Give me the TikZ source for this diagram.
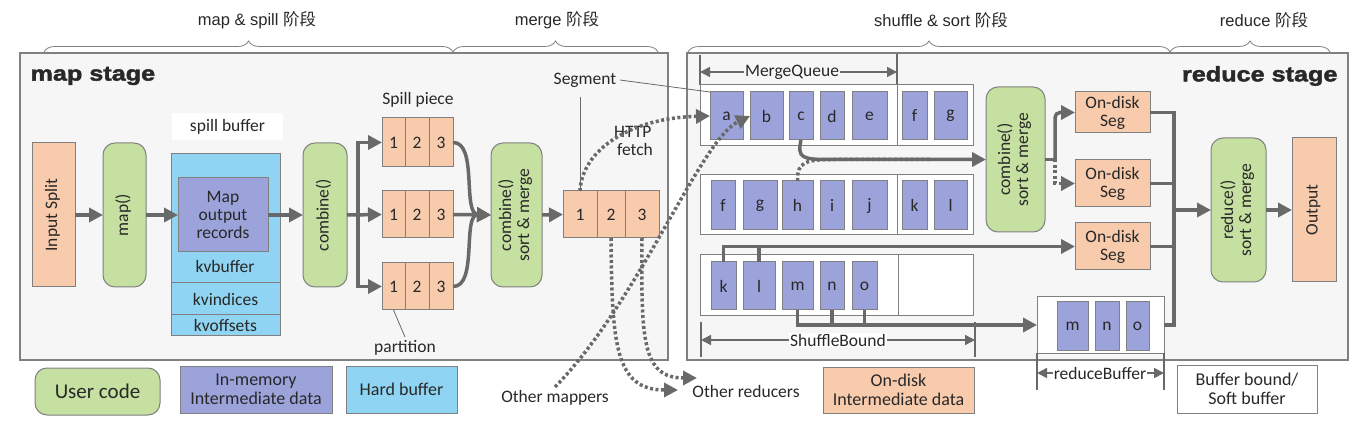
\documentclass[tikz,border=0pt]{standalone}
\usepackage{fontspec}
\usepackage{graphicx}
\setmainfont{Carlito}
\newfontfamily\arial{Liberation Sans}
\newfontfamily\heavy{Liberation Sans}[UprightFont={* Bold},FakeBold=2,FakeStretch=1.2]
\newfontfamily\cjk{Noto Sans CJK SC}
\usetikzlibrary{arrows.meta,decorations.pathreplacing,calc}
\definecolor{ora}{RGB}{248,203,173}
\definecolor{grn}{RGB}{197,224,160}
\definecolor{pur}{RGB}{155,163,218}
\definecolor{blu}{RGB}{143,212,242}
\definecolor{bord}{RGB}{128,128,128}
\definecolor{arrc}{RGB}{105,105,105}
\definecolor{stg}{RGB}{246,246,246}
\definecolor{txt}{RGB}{40,40,40}
\newcommand\mybx[7]{\node[#2,minimum width={#5pt-#3pt},minimum height={#6pt-#4pt}] (#1) at ({(#3+#5)/2},{(#4+#6)/2}) {#7};}
\newcommand\myrot[1]{\rotatebox{90}{\begin{tabular}{@{}c@{}}#1\end{tabular}}}
\begin{document}
\begin{tikzpicture}[x=1pt,y=-1pt,font=\fontsize{17.5}{18}\selectfont,text=txt,
 box/.style={draw=bord,line width=1pt,inner sep=0pt,outer sep=0pt,align=center},
 orab/.style={box,fill=ora},
 grnb/.style={box,fill=grn,rounded corners=12pt},
 purb/.style={box,fill=pur},
 blub/.style={box,fill=blu},
 whtb/.style={box,fill=white},
 stagebox/.style={box,fill=stg,line width=1.2pt},
 arr/.style={draw=arrc,line width=3.5pt,-{Triangle[length=14pt,width=14pt]}},
 plain/.style={draw=arrc,line width=3.5pt},
 dotarr/.style={arr,dash pattern=on 3pt off 2.5pt},
 dotl/.style={plain,dash pattern=on 3pt off 2.5pt},
 thinl/.style={draw=arrc,line width=0.8pt},
 dimarr/.style={draw=arrc,line width=1.5pt,{Triangle[length=10pt,width=10pt]}-{Triangle[length=10pt,width=10pt]}},
 tickl/.style={draw=arrc,line width=1.5pt},
 brc/.style={draw=bord,line width=0.8pt,decorate,decoration={brace,amplitude=11pt}},
 lbl/.style={inner sep=1pt}]
\useasboundingbox (0,0) rectangle (1368,438);
\fill[white] (0,0) rectangle (1368,438);
% headings
\node[font=\arial\fontsize{16.5}{18}\selectfont] (h1) at (257,20) {map \& spill {\cjk 阶段}};
\node[font=\arial\fontsize{16.5}{18}\selectfont] (h2) at (557,20) {merge {\cjk 阶段}};
\node[font=\arial\fontsize{16.5}{18}\selectfont] (h3) at (941,20) {shuffle \& sort {\cjk 阶段}};
\node[font=\arial\fontsize{16.5}{18}\selectfont] (h4) at (1264,20) {reduce {\cjk 阶段}};
% stage boxes
\mybx{ms}{stagebox}{20}{53}{668}{360}{}
\mybx{rs}{stagebox}{687}{53}{1348}{360}{}
\draw[brc] (44,52) -- (453,52);
\draw[brc] (453,52) -- (658,52);
\draw[brc] (688,52) -- (1170,52);
\draw[brc] (1170,52) -- (1330,52);
\node[anchor=west,font=\heavy\fontsize{21}{22}\selectfont] (mst) at (27,76) {map stage};
\node[anchor=east,font=\heavy\fontsize{21}{22}\selectfont] (rst) at (1341,76) {reduce stage};
% map stage
\mybx{split}{orab}{32}{143}{75}{287}{\myrot{Input Split}}
\mybx{map}{grnb}{103}{143}{146}{287}{\myrot{map()}}
\mybx{sbl}{box,draw=none,fill=white}{172}{113}{283}{140}{spill buffer}
\mybx{kvb}{blub}{171}{154}{280}{283}{}
\mybx{kvi}{blub}{171}{283}{280}{315}{kvindices}
\mybx{kvo}{blub}{171}{315}{280}{335}{kvoffsets}
\mybx{mor}{purb}{178}{178}{268}{252}{Map\\output\\records}
\node (kvbt) at (225,266) {kvbuffer};
\mybx{comb}{grnb}{303}{143}{347}{287}{\myrot{combine()}}
\draw[arr] (split.east) -- (map.west);
\draw[arr] (map.east) -- (mor.west);
\draw[arr] (mor.east) -- (comb.west);
% spill pieces
\mybx{sp1a}{orab}{382}{118}{405}{167}{1}
\mybx{sp1b}{orab}{405}{118}{429}{167}{2}
\mybx{sp1c}{orab}{429}{118}{453}{167}{3}
\mybx{sp2a}{orab}{382}{191}{405}{238}{1}
\mybx{sp2b}{orab}{405}{191}{429}{238}{2}
\mybx{sp2c}{orab}{429}{191}{453}{238}{3}
\mybx{sp3a}{orab}{382}{263}{405}{310}{1}
\mybx{sp3b}{orab}{405}{263}{429}{310}{2}
\mybx{sp3c}{orab}{429}{263}{453}{310}{3}
\node (spl) at (418,100) {Spill piece};
\node (part) at (405,348) {partition};
\draw[thinl] (sp3a.south) -- (part.north);
\coordinate (br) at (358,213);
\draw[arr] (comb.east) -- (sp2a.west);
\draw[arr] (br) |- (sp1a.west);
\draw[arr] (br) |- (sp3a.west);
% merge
\mybx{csm}{grnb}{491}{143}{542}{287}{\myrot{combine()\\sort \& merge}}
\draw[arr] (sp1c.east) .. controls (478,142) and (462,214) .. (csm.west);
\draw[arr] (sp2c.east) -- (csm.west);
\draw[arr] (sp3c.east) .. controls (478,287) and (462,214) .. (csm.west);
\mybx{seg1}{orab}{563}{191}{597}{238}{1}
\mybx{seg2}{orab}{597}{191}{625}{238}{2}
\mybx{seg3}{orab}{625}{191}{659}{238}{3}
\draw[arr] (csm.east) -- (seg1.west);
\node (segl) at (585,80) {Segment};
\coordinate (segtop) at (580,97);
\draw[thinl] (segtop) -- (seg1.north);
\node[anchor=west,align=left,lbl] (http) at (613,141) {HTTP\\\,fetch};
\node (omap) at (555,398) {Other mappers};
\node (ored) at (746,391) {Other reducers};
% shuffle area
\draw[tickl] (700,55) -- (700,85);
\draw[tickl] (897,54) -- (897,85);
\draw[dimarr] (700,72) -- (897,72);
\node[fill=stg,lbl] (mq) at (792,72) {MergeQueue};
\mybx{r1}{whtb}{700}{85}{973}{146}{}
\mybx{r2}{whtb}{700}{175}{973}{235}{}
\mybx{r3}{whtb}{700}{255}{973}{316}{}
\draw[bord,line width=1pt] (r1.north -| 897,0) -- (r1.south -| 897,0);
\draw[bord,line width=1pt] (r2.north -| 897,0) -- (r2.south -| 897,0);
\draw[bord,line width=1pt] (r3.north -| 898,0) -- (r3.south -| 898,0);
\mybx{a1}{purb}{710}{92}{743}{140}{a}
\mybx{b1}{purb}{750}{92}{783}{140}{b}
\mybx{c1}{purb}{789}{92}{813}{140}{c}
\mybx{d1}{purb}{820}{92}{844}{140}{d}
\mybx{e1}{purb}{852}{92}{887}{140}{e}
\mybx{f1}{purb}{902}{92}{927}{140}{f}
\mybx{g1}{purb}{934}{92}{967}{140}{g}
\mybx{f2}{purb}{711}{181}{735}{230}{f}
\mybx{g2}{purb}{743}{181}{777}{230}{g}
\mybx{h2}{purb}{782}{181}{813}{230}{h}
\mybx{i2}{purb}{820}{181}{844}{230}{i}
\mybx{j2}{purb}{852}{181}{887}{230}{j}
\mybx{k2}{purb}{902}{181}{927}{230}{k}
\mybx{l2}{purb}{934}{181}{967}{230}{l}
\mybx{k3}{purb}{711}{262}{736}{310}{k}
\mybx{l3}{purb}{743}{262}{775}{310}{l}
\mybx{m3}{purb}{782}{262}{813}{310}{m}
\mybx{n3}{purb}{820}{262}{844}{310}{n}
\mybx{o3}{purb}{852}{262}{877}{310}{o}
\draw[tickl] (701,322) -- (701,357);
\draw[tickl] (975,322) -- (975,357);
\draw[dimarr] (701,340) -- (975,340);
\node[fill=white,lbl] (sb) at (838,340) {ShuffleBound};
% segment/HTTP connectors
\draw[thinl] (segl.east) -- (a1.north west);
\draw[dotarr] (seg1.north) .. controls (582,150) and (630,118) .. (a1.west);
\draw[dotarr] (omap.north) .. controls (640,300) and (700,140) .. (b1.west);
\coordinate (or1) at (678,390);
\coordinate (or2) at (697,378);
\draw[dotarr] (seg2.south) .. controls (612,345) and (615,390) .. (or1);
\draw[dotarr] (seg3.south) .. controls (641,340) and (642,378) .. (or2);
% reduce stage
\mybx{rcsm}{grnb}{986}{87}{1045}{232}{\myrot{combine()\\sort \& merge}}
\draw[dotl] (h2.north) .. controls (797,162) and (805,159.5) .. (835,159.5) -- (930,159.5);
\draw[arr] (c1.south) .. controls (797,158) and (802,159.5) .. (830,159.5) -- (rcsm.west);
\mybx{ods1}{orab}{1075}{92}{1150}{133}{On-disk\\Seg}
\mybx{ods2}{orab}{1075}{160}{1150}{207}{On-disk\\Seg}
\mybx{ods3}{orab}{1075}{223}{1150}{270}{On-disk\\Seg}
\coordinate (rbr) at (1055,159.5);
\draw[plain] (rcsm.east) -- (rbr);
\draw[arr,rounded corners=5pt] (rbr) |- (ods1.west);
\draw[dotarr] (rbr) |- (ods2.west);
\mybx{rb}{whtb}{1037}{297}{1164}{353}{}
\mybx{rbm}{purb}{1057}{302}{1088}{350}{m}
\mybx{rbn}{purb}{1095}{302}{1119}{350}{n}
\mybx{rbo}{purb}{1126}{302}{1149}{350}{o}
\draw[arr] (k3.north) |- (ods3.west);
\draw[plain] (l3.north) -- (l3.north |- ods3.west);
\draw[arr] (m3.south) |- (rb.west);
\draw[plain] (n3.south) -- (n3.south |- rb.west);
\draw[plain] (o3.south) -- (o3.south |- rb.west);
\draw[tickl] (1037,353) -- (1037,390);
\draw[tickl] (1164,353) -- (1164,390);
\draw[dimarr] (1037,373) -- (1164,373);
\node[fill=white,lbl] (rbl) at (1100,373) {reduceBuffer};
\mybx{rsm}{grnb}{1211}{138}{1266}{282}{\myrot{reduce()\\sort \& merge}}
\mybx{out}{orab}{1292}{138}{1336}{282}{\myrot{Output}}
\coordinate (cx) at (1174,0);
\draw[plain] (ods1.east) -| (rb.east -| cx) -- (rb.east);
\draw[plain] (ods2.east) -- (ods2.east -| cx);
\draw[plain] (ods3.east) -- (ods3.east -| cx);
\draw[arr] (rsm.west -| cx) -- (rsm.west);
\draw[arr] (rsm.east) -- (out.west);
% legend
\mybx{lg1}{grnb,font=\fontsize{21}{22}\selectfont}{35}{368}{160}{415}{User code}
\mybx{lg2}{purb,font=\fontsize{18}{19}\selectfont}{180}{366}{332}{413}{In-memory\\Intermediate data}
\mybx{lg3}{blub,font=\fontsize{18}{19}\selectfont}{346}{366}{457}{413}{Hard buffer}
\mybx{lg4}{orab,font=\fontsize{18}{19}\selectfont}{823}{367}{974}{413}{On-disk\\Intermediate data}
\mybx{lg5}{whtb,font=\fontsize{18}{19}\selectfont}{1177}{365}{1317}{413}{Buffer bound/\\Soft buffer}
\end{tikzpicture}
\end{document}
